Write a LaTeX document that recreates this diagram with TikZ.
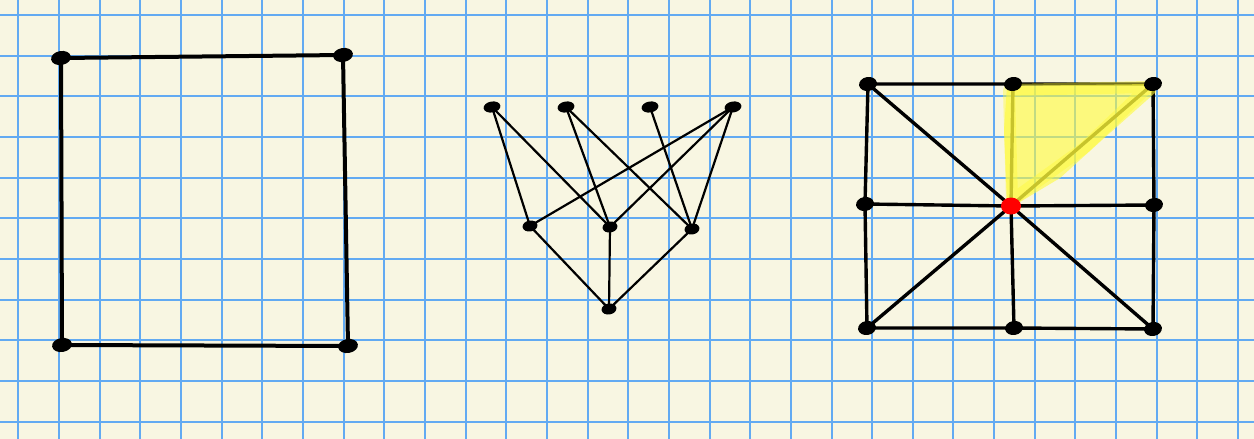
\documentclass[tikz,border=0pt]{standalone}
\usetikzlibrary{shapes.geometric}
\begin{document}
\begin{tikzpicture}[x=0.5pt,y=-0.5pt,
  grid/.style={draw=gridblue,line width=1pt},
  mid edge/.style={line width=1.7pt,line cap=round},
  thin edge/.style={line width=1.1pt,line cap=round},
  dot/.style={ellipse,fill=black,inner sep=0pt,minimum width=10pt,minimum height=7pt,rotate=10},
  smalldot/.style={ellipse,fill=black,inner sep=0pt,minimum width=7.5pt,minimum height=5.5pt,rotate=10}]
\definecolor{paper}{HTML}{F8F6E2}
\definecolor{gridblue}{HTML}{62AAF2}
\definecolor{hilite}{HTML}{FFFB3A}
\useasboundingbox (0,0) rectangle (1254,439);
\fill[paper] (0,0) rectangle (1254,439);
\foreach \k in {0,...,30} \draw[grid] ({18.3+40.66*\k},0) -- ({18.3+40.66*\k},439);
\foreach \k in {0,...,10} \draw[grid] (0,{15+40.66*\k}) -- (1254,{15+40.66*\k});

% left rectangle
\coordinate (a1) at (61,58);
\coordinate (a2) at (343,55);
\coordinate (a3) at (348,346);
\coordinate (a4) at (62,345);
\draw[line width=2pt,line join=round] (a1) -- (a2) -- (a3) -- (a4) -- cycle;
\foreach \n in {a1,a2,a3,a4} \node[dot] (d\n) at (\n) {};

% middle graph
\coordinate (t1) at (492,107);
\coordinate (t2) at (566,107);
\coordinate (t3) at (650,107);
\coordinate (t4) at (733,107);
\coordinate (m1) at (530,226);
\coordinate (m2) at (610,227);
\coordinate (m3) at (692,229);
\coordinate (b1) at (609,309);
\foreach \u/\v in {t1/m1,t1/m2,t2/m2,t2/m3,t3/m3,t4/m1,t4/m2,t4/m3,m1/b1,m2/b1,m3/b1}
  \draw[thin edge] (\u) -- (\v);
\foreach \n in {t1,t2,t3,t4} \node[dot,minimum width=8.5pt,minimum height=5.5pt] (d\n) at (\n) {};
\foreach \n in {m1,m2,m3,b1} \node[smalldot] (d\n) at (\n) {};

% right figure
\coordinate (r1) at (868,84);
\coordinate (r2) at (1013,84);
\coordinate (r3) at (1153,84);
\coordinate (r4) at (865,204);
\coordinate (rc) at (1011,206);
\coordinate (r6) at (1154,205);
\coordinate (r7) at (867,328);
\coordinate (r8) at (1014,328);
\coordinate (r9) at (1153,329);
\draw[mid edge,line join=round] (r1) -- (r2) -- (r3) -- (r6) -- (r9) -- (r8) -- (r7) -- (r4) -- cycle;
\foreach \n in {r1,r2,r3,r4,r6,r7,r8,r9} \draw[mid edge] (rc) -- (\n);
\fill[hilite,opacity=0.6] (1007,86) -- (1150,84) -- (1156,92) -- (1102,140) -- (1060,178) -- (1015,205) -- (1007,200) -- (1004,130) -- cycle;
\draw[hilite,opacity=0.45,line width=6pt,line join=round,line cap=round] (1009,90) -- (1148,87) -- (1084,148) -- (1012,200) -- cycle;
\foreach \n in {r1,r2,r3,r4,r6,r7,r8,r9} \node[dot,minimum width=9pt,minimum height=7pt] (d\n) at (\n) {};
\node[ellipse,fill=red,inner sep=0pt,minimum width=10pt,minimum height=8.5pt] (c) at (rc) {};
\end{tikzpicture}
\end{document}
